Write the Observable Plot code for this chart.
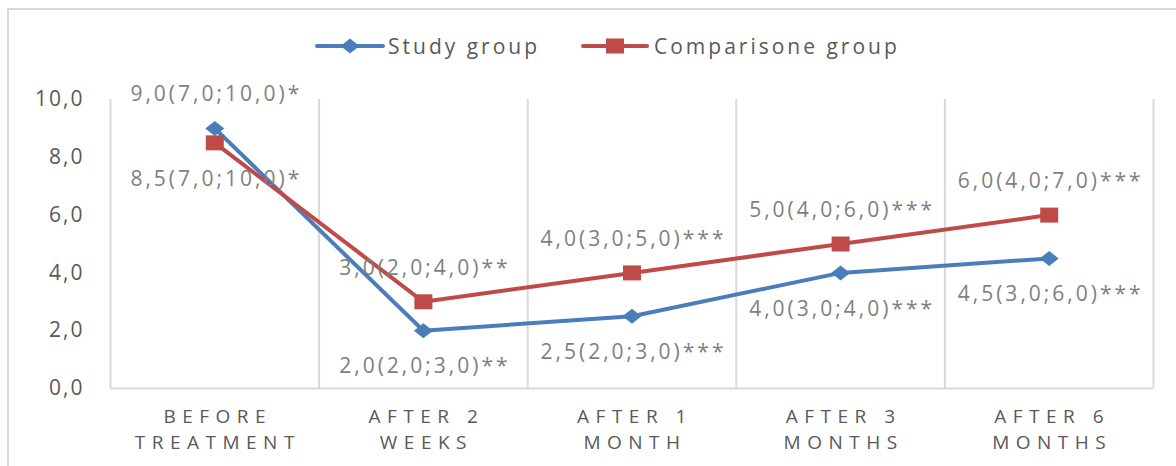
<!DOCTYPE html>
<html><head><meta charset="utf-8">
<script src="https://cdn.jsdelivr.net/npm/d3@7"></script>
<script src="https://cdn.jsdelivr.net/npm/@observablehq/plot@0.6"></script>
<style>
html,body{margin:0;padding:0;background:#fff;}
#wrap{position:relative;width:1176px;height:466px;overflow:hidden;font-family:"Open Sans",sans-serif;}
#frame{position:absolute;left:7px;top:8px;width:1250px;height:520px;border:2px solid #d9d9d9;box-sizing:border-box;pointer-events:none;}
#legend{position:relative;height:80px;}
.sw{position:absolute;top:36px;}
.lt{position:absolute;top:30px;font-size:21px;letter-spacing:3px;color:#595959;line-height:32px;white-space:nowrap;}
#chart{position:absolute;left:0;top:80px;}
g[aria-label="x-axis tick label"] text{letter-spacing:6.5px;}
g[aria-label="y-axis tick label"] text{letter-spacing:2px;}
g[aria-description="value-labels"] text{letter-spacing:3px;}
</style>
</head><body>
<div id="wrap">
  <div id="frame"></div>
  <div id="legend"></div>
  <div id="chart"></div>
</div>
<script>
const categories = ["BEFORE\nTREATMENT", "AFTER 2\nWEEKS", "AFTER 1\nMONTH", "AFTER 3\nMONTHS", "AFTER 6\nMONTHS"];
const studyValues = [9.0, 2.0, 2.5, 4.0, 4.5];
const comparisonValues = [8.5, 3.0, 4.0, 5.0, 6.0];
const studyLabels = ["9,0(7,0;10,0)*", "2,0(2,0;3,0)**", "2,5(2,0;3,0)***", "4,0(3,0;4,0)***", "4,5(3,0;6,0)***"];
const comparisonLabels = ["8,5(7,0;10,0)*", "3,0(2,0;4,0)**", "4,0(3,0;5,0)***", "5,0(4,0;6,0)***", "6,0(4,0;7,0)***"];
const studyLabelSide = ["above", "below", "below", "below", "below"];
const comparisonLabelSide = ["below", "above", "above", "above", "above"];
const yTicks = [0, 2, 4, 6, 8, 10];
const seriesNames = ["Study group", "Comparisone group"];

const blue = "#4a7ebb", red = "#be4b48";

const study = categories.map((c, i) => ({i, v: studyValues[i], label: studyLabels[i], side: studyLabelSide[i]}));
const comparison = categories.map((c, i) => ({i, v: comparisonValues[i], label: comparisonLabels[i], side: comparisonLabelSide[i]}));
const boundaries = d3.range(categories.length + 1).map(k => k - 0.5);

const wideDiamond = {draw(ctx) { const w = 9.5, h = 7.5; ctx.moveTo(0, -h); ctx.lineTo(w, 0); ctx.lineTo(0, h); ctx.lineTo(-w, 0); ctx.closePath(); }};
const wideSquare = {draw(ctx) { ctx.rect(-9, -7.5, 18, 15); }};

const fmt = d => d.toFixed(1).replace(".", ",");

const labelMarks = (data) => [
  Plot.text(data, {x: "i", y: "v", text: "label", filter: d => d.side === "above", dy: -34, dx: 1.5, fill: "#7f7f7f", fontSize: 21, ariaDescription: "value-labels"}),
  Plot.text(data, {x: "i", y: "v", text: "label", filter: d => d.side === "below", dy: 36, dx: 1.5, fill: "#7f7f7f", fontSize: 21, ariaDescription: "value-labels"})
];

const chart = Plot.plot({
  width: 1176,
  height: 386,
  marginTop: 19,
  marginBottom: 78,
  marginLeft: 110,
  marginRight: 23,
  style: {fontFamily: "'Open Sans', sans-serif", background: "transparent", overflow: "visible"},
  x: {type: "linear", domain: [-0.5, categories.length - 0.5]},
  y: {domain: [0, 10]},
  marks: [
    Plot.ruleX(boundaries, {y1: 0, y2: 10, stroke: "#d9d9d9", strokeWidth: 2}),
    Plot.ruleY([0], {x1: -0.5, x2: categories.length - 0.5, stroke: "#d9d9d9", strokeWidth: 2}),
    Plot.axisY({ticks: yTicks, tickFormat: fmt, tickSize: 0, tickPadding: 26, fontSize: 21, fill: "#595959", label: null}),
    Plot.axisX({ticks: d3.range(categories.length), tickFormat: i => categories[i], tickSize: 0, tickPadding: 16, fontSize: 19, lineHeight: 1.38, fill: "#595959", label: null, dx: 3}),
    Plot.line(study, {x: "i", y: "v", stroke: blue, strokeWidth: 4}),
    Plot.dot(study, {x: "i", y: "v", symbol: wideDiamond, fill: blue, r: 6}),
    Plot.line(comparison, {x: "i", y: "v", stroke: red, strokeWidth: 4}),
    Plot.dot(comparison, {x: "i", y: "v", symbol: wideSquare, fill: red, r: 6}),
    ...labelMarks(study),
    ...labelMarks(comparison)
  ]
});
document.getElementById("chart").appendChild(chart);

// legend
const legend = document.getElementById("legend");
const items = [
  {name: seriesNames[0], color: blue, sym: "diamond", lineX: 315, lineW: 70, textX: 388},
  {name: seriesNames[1], color: red, sym: "square", lineX: 581, lineW: 68, textX: 654}
];
for (const it of items) {
  const svg = d3.create("svg").attr("class", "sw").attr("width", it.lineW).attr("height", 20)
    .style("left", it.lineX + "px");
  svg.append("line").attr("x1", 2).attr("x2", it.lineW - 2).attr("y1", 10).attr("y2", 10)
    .attr("stroke", it.color).attr("stroke-width", 4).attr("stroke-linecap", "round");
  const cx = it.lineW / 2;
  if (it.sym === "diamond") {
    svg.append("path").attr("d", `M${cx},2.5L${cx + 9.5},10L${cx},17.5L${cx - 9.5},10Z`).attr("fill", it.color);
  } else {
    svg.append("rect").attr("x", cx - 9).attr("y", 2.5).attr("width", 18).attr("height", 15).attr("fill", it.color);
  }
  legend.appendChild(svg.node());
  const t = document.createElement("div");
  t.className = "lt";
  t.style.left = it.textX + "px";
  t.textContent = it.name;
  legend.appendChild(t);
}
</script>
</body></html>
